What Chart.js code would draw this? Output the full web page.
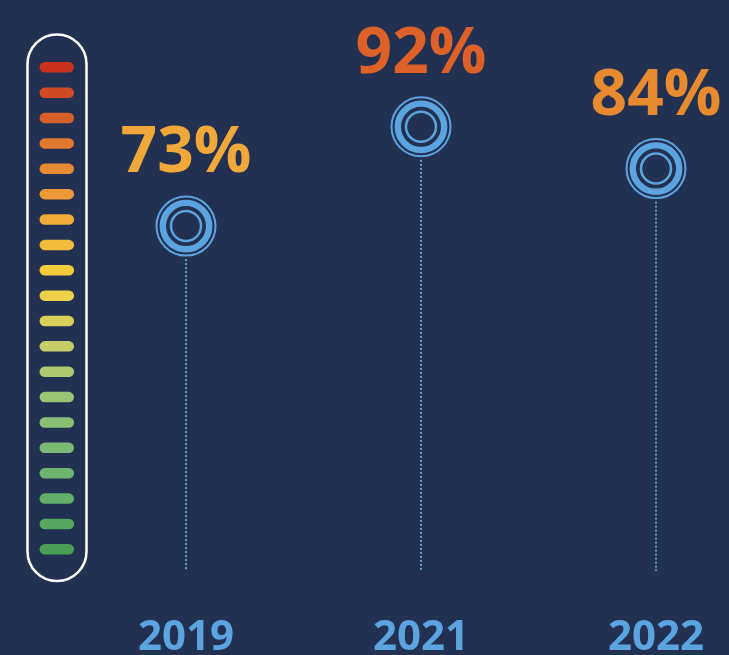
<!DOCTYPE html>
<html>
<head>
<meta charset="utf-8">
<script src="https://cdn.jsdelivr.net/npm/chart.js@4.4.1/dist/chart.umd.min.js"></script>
<style>
  html, body { margin: 0; padding: 0; background: #223052; }
  #wrap { width: 729px; height: 655px; }
</style>
</head>
<body>
<div id="wrap"><canvas id="chart"></canvas></div>
<script>
// data
const years = ["2019", "2021", "2022"];
const scores = [73, 92, 84];

// styles
const labelColors = ["#f0a83a", "#dd6128", "#e88a30"];
const ringBlue = "#5ba4e0";
const meterColors = [
  "#c8321f", "#d04a25", "#d8602a", "#e07830", "#e68a34",
  "#eb9a36", "#efab38", "#f2bd3a", "#f5cc3c", "#edd14a",
  "#d9d05c", "#c5cd68", "#b0c870", "#9cc474", "#8ac076",
  "#7cbb76", "#6eb472", "#62ad6a", "#56a660", "#4a9e55"
];

// background + the colour meter on the left
const meterPlugin = {
  id: "meter",
  beforeDraw(chart) {
    const ctx = chart.ctx;
    ctx.save();
    ctx.fillStyle = "#223052";
    ctx.fillRect(0, 0, chart.width, chart.height);

    ctx.strokeStyle = "#ffffff";
    ctx.lineWidth = 2.5;
    ctx.beginPath();
    ctx.roundRect(27.5, 34.5, 59, 546.5, 29.5);
    ctx.stroke();

    ctx.lineCap = "round";
    ctx.lineWidth = 10.5;
    meterColors.forEach((c, i) => {
      const y = 67.3 + i * 25.37;
      ctx.strokeStyle = c;
      ctx.beginPath();
      ctx.moveTo(44.8, y);
      ctx.lineTo(68.8, y);
      ctx.stroke();
    });
    ctx.restore();
  }
};

// dotted stems, inner rings and the % labels
const lollipopPlugin = {
  id: "lollipop",
  beforeDatasetsDraw(chart) {
    const ctx = chart.ctx;
    const bottom = chart.chartArea.bottom;
    ctx.save();
    ctx.strokeStyle = ringBlue;
    ctx.lineWidth = 2;
    ctx.setLineDash([2, 2]);
    chart.getDatasetMeta(0).data.forEach(pt => {
      ctx.beginPath();
      ctx.moveTo(pt.x, pt.y + 33);
      ctx.lineTo(pt.x, bottom);
      ctx.stroke();
    });
    ctx.restore();
  },
  afterDatasetsDraw(chart) {
    const ctx = chart.ctx;
    ctx.save();
    chart.getDatasetMeta(0).data.forEach((pt, i) => {
      ctx.strokeStyle = ringBlue;
      ctx.lineWidth = 6.4;
      ctx.beginPath();
      ctx.arc(pt.x, pt.y, 23.2, 0, Math.PI * 2);
      ctx.stroke();
      ctx.lineWidth = 2.5;
      ctx.beginPath();
      ctx.arc(pt.x, pt.y, 15, 0, Math.PI * 2);
      ctx.stroke();

      ctx.fillStyle = labelColors[i];
      ctx.font = "bold 64px 'Open Sans'";
      ctx.textAlign = "center";
      ctx.textBaseline = "alphabetic";
      ctx.fillText(scores[i] + "%", pt.x, pt.y - 54);
    });
    ctx.restore();
  }
};

new Chart(document.getElementById("chart"), {
  type: "line",
  data: {
    labels: years,
    datasets: [{
      data: scores,
      showLine: false,
      pointRadius: 29.5,
      pointBorderWidth: 2,
      pointBorderColor: ringBlue,
      pointBackgroundColor: "rgba(0,0,0,0)"
    }]
  },
  options: {
    responsive: true,
    maintainAspectRatio: false,
    animation: false,
    events: [],
    layout: { padding: { left: 186, right: 73, top: 85, bottom: 0 } },
    plugins: { legend: { display: false }, tooltip: { enabled: false } },
    scales: {
      x: {
        offset: false,
        grid: { display: false },
        border: { display: false },
        ticks: {
          color: ringBlue,
          maxRotation: 0,
          padding: 38,
          font: { family: "'Open Sans'", size: 42, weight: "bold", lineHeight: 1 }
        },
        afterFit(scale) {
          scale.height = 84;
          scale.paddingLeft = 0;
          scale.paddingRight = 0;
        }
      },
      y: { display: false, min: 7, max: 100 }
    }
  },
  plugins: [meterPlugin, lollipopPlugin]
});
</script>
</body>
</html>
